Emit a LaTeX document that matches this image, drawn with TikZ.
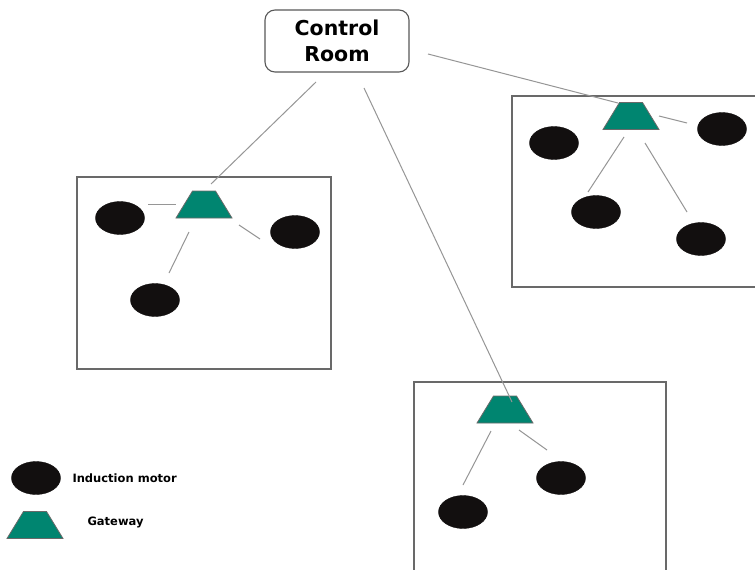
\documentclass[tikz,border=0pt]{standalone}
\usepackage{fontspec}
\setmainfont{DejaVu Sans}
\usetikzlibrary{shapes.geometric}
\definecolor{gwteal}{RGB}{0,133,112}
\definecolor{boxgray}{RGB}{105,105,105}
\definecolor{linkgray}{RGB}{150,150,150}
\definecolor{motorblack}{RGB}{18,15,15}
\tikzset{
  area/.style={draw=boxgray, line width=1.4pt},
  motor/.style={ellipse, fill=motorblack, draw=motorblack, line width=0.4pt, minimum width=49pt, minimum height=33pt, inner sep=0pt, outer sep=0pt},
  gwshape/.style={fill=gwteal, draw=boxgray, line width=0.8pt, line join=miter},
  gateway/.style={rectangle, minimum width=56pt, minimum height=27pt, inner sep=0pt, outer sep=0pt,
    append after command={\pgfextra{\let\gwn\tikzlastnode
      \path[gwshape] (\gwn.south west) -- ([xshift=16.5pt]\gwn.north west) -- ([xshift=-16.5pt]\gwn.north east) -- (\gwn.south east) -- cycle;}}},
  link/.style={draw=linkgray, line width=1pt},
  ctrl/.style={draw=boxgray!85!black, line width=1.1pt, rounded corners=10pt, minimum width=144pt, minimum height=62pt, align=center, font=\fontsize{20.5}{26}\selectfont\bfseries},
  legend/.style={anchor=west, font=\fontsize{11.5}{14}\selectfont\bfseries}
}
\begin{document}
\begin{tikzpicture}[x=1pt,y=-1pt]
\useasboundingbox (0,0) rectangle (755,570);
\clip (0,0) rectangle (755,570);
\fill[white] (0,0) rectangle (755,570);
% areas
\draw[area] (77,177) rectangle (331,369);
\draw[area] (512,96) rectangle (770,287);
\draw[area] (414,382) rectangle (666,590);
% control room
\node[ctrl] (cr) at (337,41) {Control\\Room};
% left area
\node[gateway] (gL) at (204,204.5) {};
\node[motor] (mL1) at (120,218) {};
\node[motor] (mL2) at (295,232) {};
\node[motor] (mL3) at (155,300) {};
% right area
\node[gateway] (gR) at (631,116) {};
\node[motor] (mR1) at (554,143) {};
\node[motor] (mR2) at (722,129) {};
\node[motor] (mR3) at (596,212) {};
\node[motor] (mR4) at (701,239) {};
% bottom area
\node[gateway] (gB) at (505,409.5) {};
\node[motor] (mB1) at (463,512) {};
\node[motor] (mB2) at (561,478) {};
% connector end points (lines stop short of the shapes)
\coordinate (crL) at (316,82);
\coordinate (crB) at (364,88);
\coordinate (crR) at (428,54);
\coordinate (gLt) at (211,184);
\coordinate (gLw) at (176,204);
\coordinate (mL1e) at (148,204);
\coordinate (gLse) at (239,225);
\coordinate (mL2w) at (260,239);
\coordinate (gLs) at (189,232);
\coordinate (mL3n) at (169,273);
\coordinate (gRt) at (618,103);
\coordinate (gRe) at (659,116);
\coordinate (mR2w) at (687,123);
\coordinate (gRs) at (624,137);
\coordinate (mR3n) at (588,192);
\coordinate (gRse) at (645,143);
\coordinate (mR4n) at (687,212);
\coordinate (gBt) at (512,402);
\coordinate (gBs) at (491,431);
\coordinate (mB1n) at (463,485);
\coordinate (gBse) at (519,430);
\coordinate (mB2n) at (547,450);
% links
\draw[link] (crL) -- (gLt);
\draw[link] (crR) -- (gRt);
\draw[link] (crB) -- (gBt);
\draw[link] (mL1e) -- (gLw);
\draw[link] (gLse) -- (mL2w);
\draw[link] (gLs) -- (mL3n);
\draw[link] (gRe) -- (mR2w);
\draw[link] (gRs) -- (mR3n);
\draw[link] (gRse) -- (mR4n);
\draw[link] (gBs) -- (mB1n);
\draw[link] (gBse) -- (mB2n);
% legend
\node[motor] (lgm) at (36,478) {};
\node[gateway] (lgg) at (35,525) {};
\node[legend] (lgmt) at (69,478) {Induction motor};
\node[legend] (lggt) at (84,522) {Gateway};
\end{tikzpicture}
\end{document}
